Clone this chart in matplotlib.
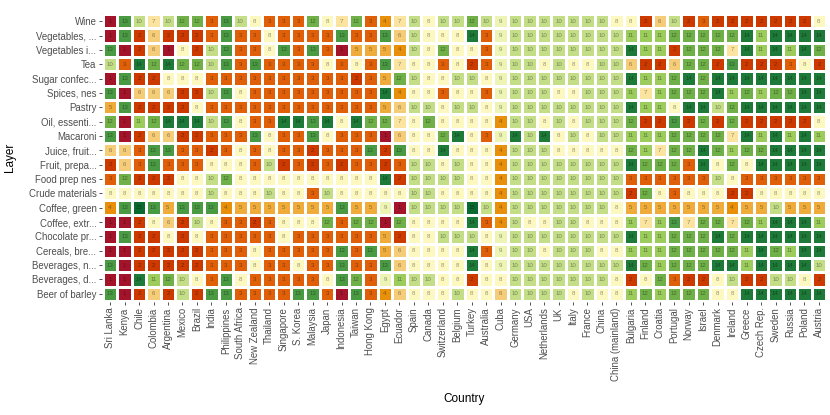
import numpy as np
import matplotlib
matplotlib.use("Agg")
import matplotlib.pyplot as plt
from matplotlib.colors import ListedColormap, BoundaryNorm

plt.rcParams['font.family'] = ['Liberation Sans', 'DejaVu Sans']

countries = ['Sri Lanka', 'Kenya', 'Chile', 'Colombia', 'Argentina', 'Mexico', 'Brazil', 'India',
             'Philippines', 'South Africa', 'New Zealand', 'Thailand', 'Singapore', 'S. Korea',
             'Malaysia', 'Japan', 'Indonesia', 'Taiwan', 'Hong Kong', 'Egypt', 'Ecuador', 'Spain',
             'Canada', 'Switzerland', 'Belgium', 'Turkey', 'Australia', 'Cuba', 'Germany', 'USA',
             'Netherlands', 'UK', 'Italy', 'France', 'China', 'China (mainland)', 'Bulgaria',
             'Finland', 'Croatia', 'Portugal', 'Norway', 'Israel', 'Denmark', 'Ireland', 'Greece',
             'Czech Rep.', 'Sweden', 'Russia', 'Poland', 'Austria']

# layers, top to bottom
layers = ['Wine', 'Vegetables, ...', 'Vegetables i...', 'Tea', 'Sugar confec...', 'Spices, nes',
          'Pastry', 'Oil, essenti...', 'Macaroni', 'Juice, fruit...', 'Fruit, prepa...',
          'Food prep nes', 'Crude materials', 'Coffee, green', 'Coffee, extr...',
          'Chocolate pr...', 'Cereals, bre...', 'Beverages, n...', 'Beverages, d...',
          'Beer of barley']

wine = [1,13,10,7,10,12,12,3,13,10,8,3,3, 3,12,8,7,12,3,4,7,10,8,10,10,
        12,10,9,10,10,10,10,10,10,10,8,8, 2,6,10,2,3,2,2,2,2,2,2,2,8]
veg_comma = [1,13,2,6,2,2,2,3,13,3,3,8,3, 3,3,3,13,3,3,13,6,10,8,8,8,
             14,3,9,10,10,10,10,10,10,10,10,11, 11,11,12,12,12,12,12,14,11,14,14,14,14]
veg_i = [13,1,2,6,1,8,2,10,13,3,3,8,13, 3,13,3,1,5,5,5,4,10,8,12,8,
         8,3,9,10,10,10,10,10,10,10,10,14, 11,11,2,12,12,12,7,14,11,14,11,14,12]
tea = [10,3,14,12,14,12,12,10,13,3,13,3,3, 3,3,8,3,8,3,13,7,8,8,3,8,
       2,3,9,10,10,8,10,8,8,10,10,6, 2,2,6,12,12,2,13,2,2,2,3,8,2]
sugar = [1,13,2,2,8,8,8,3,3,3,3,3,3, 3,3,3,3,2,3,5,12,10,8,8,10,
         10,8,9,10,10,10,10,10,10,10,10,14, 11,11,12,14,12,14,14,14,14,14,14,14,14]
spices = [13,1,6,6,6,2,2,10,13,8,3,3,3, 3,3,3,3,3,3,14,4,8,8,3,8,
          8,3,9,10,10,10,8,8,10,10,10,11, 7,11,12,12,12,14,11,12,11,12,12,14,14]
pastry = [5,13,2,2,2,2,8,3,3,3,3,3,3, 3,3,3,3,3,3,5,6,10,10,8,10,
          10,8,9,10,10,10,10,10,10,10,10,14, 11,11,8,14,14,10,12,14,14,14,14,14,14]
oil = [12,1,11,12,14,14,14,10,13,8,3,3,14, 14,13,14,8,14,12,12,7,8,12,8,8,
       8,8,4,10,10,8,10,8,10,10,10,12, 2,2,13,2,12,2,12,2,2,2,2,2,8]
macaroni = [13,1,2,6,6,2,2,3,3,3,13,8,3, 3,13,8,3,3,3,1,6,8,8,12,14,
            8,3,9,14,10,14,8,10,8,10,10,11, 11,11,12,12,12,12,7,14,11,14,11,14,11]
juice = [6,6,3,13,13,3,3,2,3,8,3,8,3, 3,2,3,3,3,13,2,13,8,8,14,8,
         8,8,4,10,10,10,8,8,8,8,8,12, 11,7,12,12,14,12,11,12,12,14,14,14,14]
fruit = [2,6,3,13,3,3,3,8,8,8,3,10,2, 3,2,3,2,3,3,2,3,10,10,8,10,
         8,8,4,10,10,10,10,10,10,10,10,14, 12,12,12,3,14,8,12,8,14,14,14,14,14]
food_prep = [3,12,2,2,2,8,8,10,12,8,8,8,8, 8,8,8,8,8,8,14,2,10,10,10,10,
             8,8,4,10,10,10,10,10,10,10,10,3, 3,3,3,3,3,10,8,3,3,3,3,3,3]
crude = [8,8,8,8,8,8,8,10,8,8,8,10,8, 8,3,10,8,8,8,8,8,10,10,8,8,
         8,8,4,10,10,10,10,10,10,10,10,2, 12,8,3,8,8,8,2,2,8,8,8,8,8]
coffee_green = [4,13,15,13,5,13,13,13,4,5,5,5,5, 5,5,5,13,5,5,9,1,10,10,10,10,
                15,10,4,10,10,10,10,10,10,10,8,5, 5,5,5,5,5,5,4,5,5,10,5,5,5]
coffee_extr = [1,1,2,8,6,2,10,8,3,3,2,3,8, 8,8,12,3,12,12,1,12,8,8,8,8,
               14,3,4,10,8,8,10,10,8,8,8,11, 7,11,13,7,12,12,7,12,11,14,14,14,11]
chocolate = [1,13,2,2,8,2,8,3,3,3,3,3,8, 3,3,3,3,3,3,5,2,8,8,10,10,
             10,8,9,10,10,10,10,10,10,10,10,14, 11,11,12,12,12,14,12,14,14,14,14,14,14]
cereals = [1,1,2,2,2,2,2,3,3,3,8,3,3, 3,3,3,13,3,13,5,6,8,8,8,8,
           14,3,9,10,10,8,10,10,10,8,8,11, 11,11,12,12,12,12,12,11,14,12,11,14,14]
bev_n = [13,1,2,2,2,2,2,3,3,3,8,3,3, 8,3,3,13,3,3,13,6,8,8,8,8,
         14,8,9,10,10,10,10,10,10,10,10,14, 12,11,12,12,12,14,14,11,14,14,14,14,10]
bev_d = [1,1,14,11,12,10,8,3,13,8,3,3,3, 3,3,8,13,12,3,9,11,10,10,8,8,
         2,8,8,10,10,10,10,10,10,10,8,2, 8,12,3,2,2,8,10,2,2,10,10,8,2]
beer = [13,1,2,6,2,10,2,13,13,3,3,3,3, 13,13,3,1,13,3,4,6,8,8,8,10,
        8,8,6,10,10,10,10,8,10,8,8,11, 12,11,12,12,12,8,8,14,14,14,14,14,14]

grid = np.array([wine, veg_comma, veg_i, tea, sugar, spices, pastry, oil, macaroni, juice,
                 fruit, food_prep, crude, coffee_green, coffee_extr, chocolate, cereals,
                 bev_n, bev_d, beer])

# one colour per rank 1..15
palette = ['#a3142a', '#cc3a00', '#e0600a', '#e8900a', '#f0ac3a', '#f5cc78', '#fbe4a0',
           '#fdf8c0', '#eef4b4', '#c4de88', '#9ccc5c', '#70b048', '#4a9a44', '#1e7a38',
           '#0a6a30']
cmap = ListedColormap(palette)
norm = BoundaryNorm(np.arange(0.5, 16.5, 1), cmap.N)

fig = plt.figure(figsize=(8.3, 4.15), dpi=100)
ax = fig.add_axes([0.1229, 0.273, 0.8735, 0.695])
ax.set_facecolor('#ebebeb')

ax.pcolormesh(np.arange(len(countries) + 1) - 0.5, np.arange(len(layers) + 1) - 0.5, grid,
              cmap=cmap, norm=norm, edgecolors='white', linewidth=0.8)

for i in range(grid.shape[0]):
    for j in range(grid.shape[1]):
        ax.text(j, i, str(grid[i, j]), ha='center', va='center', fontsize=4.4,
                color='black', alpha=0.4)

ax.set_xlim(-0.56, len(countries) - 0.44)
ax.set_ylim(len(layers) - 0.44, -0.56)

ax.set_xticks(range(len(countries)))
ax.set_xticklabels(countries, rotation=90)
ax.set_yticks(range(len(layers)))
ax.set_yticklabels(layers)
ax.tick_params(axis='both', labelsize=6.9, labelcolor='#4d4d4d', color='#333333',
               length=2.5, width=0.6, pad=1.5)
for s in ax.spines.values():
    s.set_visible(False)

ax.set_xlabel('Country', fontsize=8.5, labelpad=9)
ax.set_ylabel('Layer', fontsize=8.5)
ax.yaxis.set_label_coords(-0.118, 0.5)

fig.savefig('out.png', dpi=100)
